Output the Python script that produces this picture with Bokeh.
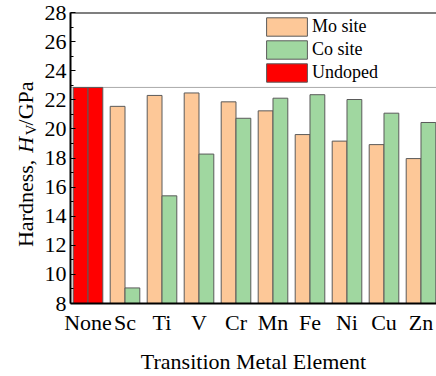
import math
from bokeh.plotting import figure
from bokeh.layouts import row
from bokeh.models import (ColumnDataSource, Range1d, FixedTicker, Span,
                          Legend, LegendItem)
from bokeh.core.properties import value
from bokeh.transform import dodge
from bokeh.embed import file_html
from bokeh.resources import INLINE

# ---- data ----
elements = ["None", "Sc", "Ti", "V", "Cr", "Mn", "Fe", "Ni", "Cu", "Zn"]
dopants = ["Sc", "Ti", "V", "Cr", "Mn", "Fe", "Ni", "Cu", "Zn"]
mo_site = [21.55, 22.30, 22.47, 21.86, 21.24, 19.61, 19.16, 18.92, 17.96]
co_site = [9.07, 15.40, 18.27, 20.73, 22.11, 22.35, 22.02, 21.08, 20.44]
undoped = 22.85
y_ticks = [8, 10, 12, 14, 16, 18, 20, 22, 24, 26, 28]
y_minor = [9, 11, 13, 15, 17, 19, 21, 23, 25, 27]

FONT = "Liberation Serif"
MO_COLOR = "#fdc898"
CO_COLOR = "#a0d7a0"
EDGE = "#5a5a5a"

W, H = 436, 376
LW = 40                       # width of the strip holding the y-axis title
BL, BR, BT, BB = 70 - LW, 0, 12, 65
X0, X1 = -0.473, 9.419

idx = {name: i for i, name in enumerate(elements)}
src = ColumnDataSource(dict(x=[idx[d] for d in dopants], mo=mo_site, co=co_site))
src_none = ColumnDataSource(dict(x=[idx["None"]], v=[undoped]))

p = figure(width=W - LW, height=H, output_backend="svg", toolbar_location=None,
           x_range=Range1d(X0, X1), y_range=Range1d(y_ticks[0], y_ticks[-1]),
           min_border_left=BL, min_border_right=BR, min_border_top=BT,
           min_border_bottom=BB)
p.outline_line_color = None
p.grid.visible = False
p.background_fill_color = "white"

bw = 0.4
r_mo = p.vbar(x=dodge("x", -bw / 2, range=p.x_range), top="mo", bottom=0, width=bw,
              source=src, fill_color=MO_COLOR, line_color=EDGE, line_width=1)
r_co = p.vbar(x=dodge("x", bw / 2, range=p.x_range), top="co", bottom=0, width=bw,
              source=src, fill_color=CO_COLOR, line_color=EDGE, line_width=1)
r_un1 = p.vbar(x=dodge("x", -bw / 2, range=p.x_range), top="v", bottom=0, width=bw,
               source=src_none, fill_color="#ff0000", line_color=EDGE, line_width=1)
r_un2 = p.vbar(x=dodge("x", bw / 2, range=p.x_range), top="v", bottom=0, width=bw,
               source=src_none, fill_color="#ff0000", line_color=EDGE, line_width=1)

p.add_layout(Span(location=undoped, dimension="width", line_color="#555555",
                  line_width=1, line_dash="1 1", level="underlay"))
p.add_layout(Span(location=y_ticks[-1], dimension="width", line_color="black",
                  line_width=2))

# y axis
ya = p.yaxis[0]
ya.ticker = FixedTicker(ticks=y_ticks, minor_ticks=y_minor)
ya.major_tick_in = 5
ya.major_tick_out = 0
ya.minor_tick_in = 3
ya.minor_tick_out = 0
ya.axis_line_width = 2
ya.major_label_standoff = 4
ya.major_label_text_font = FONT
ya.major_label_text_font_size = "22px"
ya.major_label_text_color = "black"

# x axis
xa = p.xaxis[0]
xa.ticker = FixedTicker(ticks=list(range(len(elements))))
xa.major_label_overrides = {i: n for i, n in enumerate(elements)}
xa.major_tick_in = 0
xa.major_tick_out = 0
xa.minor_tick_in = 0
xa.minor_tick_out = 0
xa.axis_line_width = 2
xa.major_label_standoff = 6
xa.major_label_text_font = FONT
xa.major_label_text_font_size = "22px"
xa.major_label_text_color = "black"
xa.axis_label = "Transition Metal Element"
xa.axis_label_text_font = FONT
xa.axis_label_text_font_size = "22px"
xa.axis_label_text_font_style = "normal"
xa.axis_label_text_color = "black"
xa.axis_label_standoff = 11

legend = Legend(items=[LegendItem(label="Mo site", renderers=[r_mo]),
                       LegendItem(label="Co site", renderers=[r_co]),
                       LegendItem(label="Undoped", renderers=[r_un1])],
                location=(191, 219), glyph_width=51, glyph_height=23,
                spacing=0, padding=0, margin=0, label_standoff=0,
                label_text_font=FONT, label_text_font_size="18px",
                label_text_color="black", border_line_color=None,
                background_fill_alpha=0)
p.add_layout(legend, "center")

# strip holding the rotated y-axis title; shares the main y scale (frames are aligned)
t = figure(width=LW, height=H, output_backend="svg", toolbar_location=None,
           x_range=Range1d(0, LW), y_range=p.y_range,
           min_border_left=0, min_border_right=0, min_border_top=BT,
           min_border_bottom=BB)
t.axis.visible = False
t.grid.visible = False
t.outline_line_color = None

px_y = (H - BT - BB) / (y_ticks[-1] - y_ticks[0])


def ypos(page_y):
    """data y for a pixel row measured from the top of the page"""
    return y_ticks[0] + (H - BB - page_y) / px_y


kw = dict(angle=math.pi / 2, text_align="left", text_baseline="middle",
          text_font=value(FONT), text_color="black")
t.text(x=[24.5], y=[ypos(253)], text=["Hardness, "], text_font_size="22px", **kw)
t.text(x=[24.5], y=[ypos(156)], text=["H"], text_font_size="22px",
       text_font_style="italic", **kw)
t.text(x=[30], y=[ypos(138)], text=["V"], text_font_size="15px", **kw)
t.text(x=[24.5], y=[ypos(128)], text=["/GPa"], text_font_size="22px", **kw)

layout = row(t, p, spacing=0)
open("out.html", "w").write(file_html(layout, INLINE))
